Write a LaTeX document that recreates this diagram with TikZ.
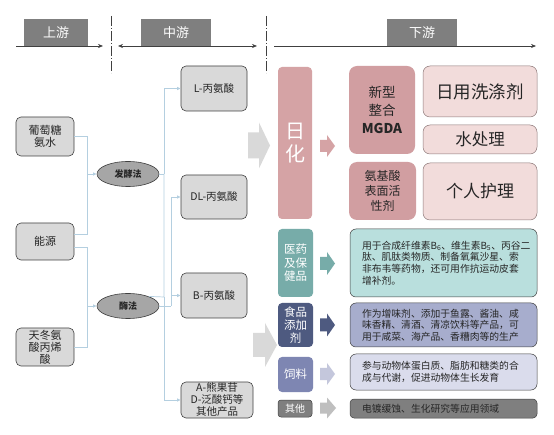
\documentclass[tikz,border=0pt]{standalone}
\usepackage{fontspec}
\setmainfont{Noto Sans CJK SC}
\usetikzlibrary{arrows.meta,shapes.geometric}
\newcommand\fs[2]{\fontsize{#1}{#2}\selectfont}
\definecolor{hdr}{HTML}{7F7F7F}
\definecolor{lg}{HTML}{D9D9D9}
\definecolor{bd}{HTML}{404040}
\definecolor{ell}{HTML}{A6A6A6}
\definecolor{conn}{HTML}{B4CFE0}
\definecolor{bigarr}{HTML}{D9D9D9}
\definecolor{pinkA}{HTML}{D5A3A5}
\definecolor{pinkB}{HTML}{D19EA1}
\definecolor{pinkL}{HTML}{F2DCDB}
\definecolor{pinkBd}{HTML}{8C7878}
\definecolor{teal}{HTML}{77ACA9}
\definecolor{tealL}{HTML}{B9DFDD}
\definecolor{navy}{HTML}{4E5A80}
\definecolor{navyL}{HTML}{A7ADCD}
\definecolor{peri}{HTML}{7E86B2}
\definecolor{periL}{HTML}{DADCEC}
\definecolor{periA}{HTML}{C4C7DC}
\definecolor{grayA}{HTML}{BFBFBF}
\definecolor{txt}{HTML}{262626}
\newcommand\blockarr[7]{\fill[#1] ({#2},{#5-#6}) -- ({#3},{#5-#6}) -- ({#3},{#5-#7}) -- ({#4},{#5}) -- ({#3},{#5+#7}) -- ({#3},{#5+#6}) -- ({#2},{#5+#6}) -- cycle;}
\begin{document}
\begin{tikzpicture}[x=1pt,y=-1pt,
  hdrbox/.style={fill=hdr,text=white,inner sep=0pt,font=\fs{13}{15}},
  hline/.style={draw=bd,line width=0.6pt},
  tipA/.style={-{Stealth[length=5pt,width=4pt]}},
  tipB/.style={{Stealth[length=5pt,width=4pt]}-{Stealth[length=5pt,width=4pt]}},
  dashdot/.style={draw=bd,line width=0.6pt,dash pattern=on 10pt off 2pt on 1pt off 2pt},
  graybox/.style={draw=bd,fill=lg,rounded corners=5pt,line width=0.6pt,align=center,inner sep=0pt,text=txt,font=\fs{10.5}{12.5}},
  ellnode/.style={ellipse,draw=bd,fill=ell,line width=0.6pt,inner sep=0pt,minimum width=62pt,minimum height=25pt,text=txt,font=\fs{9}{10}\bfseries},
  cn/.style={draw=conn,line width=0.7pt},
  cnarr/.style={draw=conn,line width=0.7pt,-{Latex[length=3.5pt,width=3.5pt]}},
  catbox/.style={rounded corners=4pt,inner sep=0pt,align=center,text=white},
  txtbox/.style={draw=bd,line width=0.5pt,rounded corners=6pt,inner xsep=12pt,inner ysep=0pt,text width=163pt,align=left,minimum height=#1,text=txt,font=\fs{9.8}{11.7}},
  pinkbox/.style={fill=pinkL,draw=pinkBd,line width=0.5pt,rounded corners=7pt,inner sep=0pt,minimum width=114pt,text=txt},
]
\useasboundingbox (0,0) rectangle (554,435);
\fill[white] (0,0) rectangle (554,435);

% header
\node[hdrbox,minimum width=64pt,minimum height=27pt] (hu) at (56,32.5) {上游};
\node[hdrbox,minimum width=70pt,minimum height=27pt] (hm) at (176,32.5) {中游};
\node[hdrbox,minimum width=70pt,minimum height=27pt] (hd) at (422,32.5) {下游};
\coordinate (l1a) at (16,46); \coordinate (l1b) at (103,46);
\coordinate (l2a) at (118,46); \coordinate (l2b) at (257,46);
\coordinate (l3a) at (274,46); \coordinate (l3b) at (536,46);
\draw[hline,tipA] (l1a) -- (l1b);
\draw[hline,tipB] (l2a) -- (l2b);
\draw[hline,tipA] (l3a) -- (l3b);
\coordinate (d1a) at (111,16); \coordinate (d1b) at (111,73);
\coordinate (d2a) at (266,16); \coordinate (d2b) at (266,73);
\draw[dashdot] (d1a) -- (d1b);
\draw[dashdot] (d2a) -- (d2b);

% upstream
\node[graybox,minimum width=58pt,minimum height=39pt,font=\fs{11}{12}] (pu) at (45,136.5) {葡萄糖\\氨水};
\node[graybox,minimum width=58pt,minimum height=37pt,font=\fs{11}{12}] (ny) at (45,241.5) {能源};
\node[graybox,minimum width=58pt,minimum height=38pt,font=\fs{11}{12}] (td) at (45,347) {天冬氨\\酸丙烯\\酸};

% methods
\node[ellnode] (fa) at (128,174) {发酵法};
\node[ellnode] (mei) at (128,306) {酶法};

% midstream
\node[graybox,minimum width=66pt,minimum height=45pt] (L) at (214,88.5) {L-丙氨酸};
\node[graybox,minimum width=66pt,minimum height=44pt] (DL) at (214,197) {DL-丙氨酸};
\node[graybox,minimum width=66pt,minimum height=45pt] (B) at (214,295.5) {B-丙氨酸};
\node[graybox,minimum width=72pt,minimum height=36pt,font=\fs{10.5}{12}] (A) at (217,400) {A-熊果苷\\D-泛酸钙等\\其他产品};

% connectors left
\coordinate (j1) at (87,174);
\coordinate (j2) at (87,306);
\draw[cn] (pu.east) -| (j1);
\draw[cn] ([yshift=7.5pt]ny.east) -| (j1);
\draw[cnarr] (j1) -- (fa.west);
\draw[cn] ([yshift=-5.5pt]ny.east) -| (j2);
\draw[cn] (td.east) -| (j2);
\draw[cnarr] (j2) -- (mei.west);

% connectors right
\coordinate (k1) at (164,174);
\coordinate (k2) at (164,297);
\coordinate (k3) at (171,306);
\draw[cn] (fa.east) -- (k1);
\draw[cnarr] (k1) |- (L.west);
\draw[cn] (mei.25) -- (k2) -- (k1);
\draw[cnarr] (k2) |- (A.west);
\draw[cn] (mei.east) -- (k3);
\draw[cnarr] (k3) |- (DL.west);
\draw[cnarr] (k3) |- (B.west);

% big arrows
\blockarr{bigarr}{248}{259}{270}{145.5}{13}{23}
\blockarr{bigarr}{253}{265}{277}{345}{12}{22}

% downstream: daily chemicals
\node[catbox,fill=pinkA,minimum width=34pt,minimum height=152pt,font=\fs{20}{23}] (rh) at (295,143) {日\\化};
\node[catbox,fill=pinkB,rounded corners=8pt,minimum width=66pt,minimum height=88pt,text=txt,font=\fs{13.5}{18}] (xx) at (382,110) {新型\\整合\\\textbf{MGDA}};
\node[catbox,fill=pinkB,rounded corners=8pt,minimum width=67pt,minimum height=58pt,text=txt,font=\fs{12}{15}] (aj) at (382.5,191) {氨基酸\\表面活\\性剂};
\node[pinkbox,minimum height=51pt,font=\fs{17.5}{20}] (ry) at (480,91.5) {日用洗涤剂};
\node[pinkbox,minimum height=29pt,font=\fs{16.5}{19}] (sc) at (480,139.5) {水处理};
\node[pinkbox,minimum height=57pt,font=\fs{17}{20}] (gr) at (480,191.5) {个人护理};
\blockarr{pinkA}{320}{327}{335}{146}{6}{11}

% pharma
\node[catbox,fill=teal,minimum width=35pt,minimum height=68pt,font=\fs{11.5}{13.5}] (yy) at (295.5,263) {医药\\及保\\健品};
\node[txtbox=68pt,fill=tealL] (yyt) at (443.5,263) {用于合成纤维素B\textsubscript{6}、维生素B\textsubscript{5}、丙谷二\\肽、肌肽类物质、制备氧氟沙星、索\\非布韦等药物，还可用作抗运动皮套\\增补剂。};
\blockarr{teal}{320}{327}{335}{263.5}{6.5}{11.5}

% food
\node[catbox,fill=navy,minimum width=35pt,minimum height=44pt,font=\fs{11.5}{13.3}] (sp) at (295.5,325) {食品\\添加\\剂};
\node[txtbox=44pt,fill=navyL] (spt) at (443.5,325) {作为增味剂、添加于鱼露、酱油、咸\\味香精、清酒、清凉饮料等产品，可\\用于咸菜、海产品、香糟肉等的生产};
\blockarr{navy}{320}{327}{335}{325}{6.5}{11.5}

% feed
\node[catbox,fill=peri,minimum width=35pt,minimum height=35pt,font=\fs{11.5}{13}] (sl) at (295.5,374.5) {饲料};
\node[txtbox=36pt,fill=periL] (slt) at (443.5,372) {参与动物体蛋白质、脂肪和糖类的合\\成与代谢，促进动物体生长发育};
\blockarr{periA}{320}{327}{335}{374}{6}{11}

% others
\node[catbox,fill=hdr,draw=bd,line width=0.5pt,rounded corners=3pt,minimum width=34pt,minimum height=17pt,font=\fs{10}{11}] (qt) at (295,408.5) {其他};
\node[txtbox=19pt,fill=hdr,rounded corners=4pt] (qtt) at (443.5,408.5) {电镀缓蚀、生化研究等应用领域};
\blockarr{grayA}{320}{327}{336}{408}{5.5}{10.5}
\end{tikzpicture}
\end{document}
